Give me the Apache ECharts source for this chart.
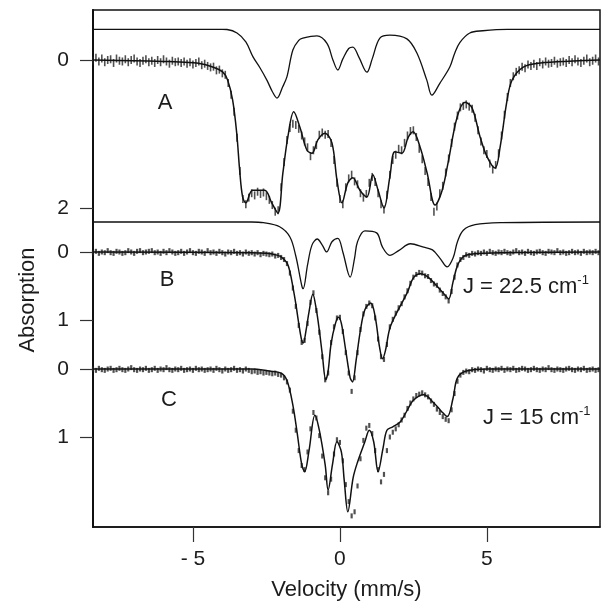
<!DOCTYPE html>
<html>
<head>
<meta charset="utf-8">
<script src="https://cdn.jsdelivr.net/npm/echarts@6/dist/echarts.min.js"></script>
<style>
  html, body { margin: 0; padding: 0; background: #fff; }
  #chart { width: 612px; height: 610px; }
</style>
</head>
<body>
<div id="chart"></div>
<script>
// Mossbauer spectra A, B, C (absorption, %), velocity in mm/s

var velStart = -8.4, velStep = 0.1;   // channel grid of the measured points

var dataA = [
  0.01, -0.03, 0.02, -0.02, 0.03, 0.00, -0.01, 0.04, -0.02, 0.01,
  0.02, -0.01, 0.03, 0.00, -0.02, 0.02, 0.04, 0.01, -0.01, 0.03,
  0.01, 0.04, 0.00, 0.03, -0.01, 0.02, 0.05, 0.01, 0.03, 0.02,
  0.04, 0.02, 0.05, 0.03, 0.06, 0.04, 0.02, 0.07, 0.05, 0.08,
  0.10, 0.09, 0.14, 0.13, 0.18, 0.20, 0.31, 0.47, 0.70, 1.05,
  1.50, 1.88, 1.95, 1.86, 1.80, 1.83, 1.78, 1.81, 1.79, 1.84,
  1.89, 1.96, 2.05, 2.03, 1.72, 1.38, 1.08, 0.92, 0.86, 0.88,
  0.93, 1.02, 1.10, 1.18, 1.30, 1.22, 1.15, 1.01, 0.98, 1.01,
  1.00, 1.12, 1.35, 1.66, 1.88, 1.95, 1.72, 1.60, 1.55, 1.64,
  1.68, 1.80, 1.86, 1.81, 1.66, 1.58, 1.65, 1.80, 1.95, 2.02,
  1.82, 1.55, 1.35, 1.28, 1.20, 1.22, 1.12, 1.02, 0.96, 0.95,
  1.04, 1.20, 1.34, 1.50, 1.65, 1.85, 2.05, 1.98, 1.80, 1.70,
  1.52, 1.33, 1.12, 0.90, 0.75, 0.64, 0.62, 0.60, 0.63, 0.66,
  0.78, 0.95, 1.10, 1.22, 1.27, 1.40, 1.48, 1.42, 1.26, 1.02,
  0.74, 0.50, 0.31, 0.22, 0.16, 0.14, 0.09, 0.11, 0.06, 0.08,
  0.05, 0.08, 0.03, 0.06, 0.02, 0.05, 0.04, 0.01, 0.05, 0.03,
  0.02, 0.04, 0.00, 0.03, -0.01, 0.02, 0.04, 0.01, -0.02, 0.03,
  0.01, -0.02, 0.02
];

var fitA = [
  [-8.4,0],[-7,0.01],[-6,0.02],[-5.45,0.027],[-4.77,0.047],[-4.33,0.095],[-3.99,0.16],
  [-3.82,0.27],[-3.65,0.54],[-3.51,0.99],[-3.41,1.49],[-3.31,1.85],[-3.2,1.93],
  [-2.97,1.76],[-2.56,1.76],[-2.32,1.93],[-2.11,2.07],[-1.94,1.53],[-1.77,1.04],
  [-1.57,0.70],[-1.36,0.91],[-1.12,1.22],[-0.95,1.26],[-0.75,1.08],[-0.51,0.99],
  [-0.27,1.12],[-0.1,1.62],[0.07,1.93],[0.27,1.66],[0.44,1.59],[0.68,1.76],[0.92,1.85],
  [1.12,1.55],[1.30,1.76],[1.50,2.00],[1.70,1.58],[1.87,1.24],[2.11,1.26],[2.32,1.05],
  [2.49,0.97],[2.73,1.18],[2.97,1.53],[3.24,1.96],[3.48,1.76],[3.68,1.39],[3.99,0.77],
  [4.26,0.57],[4.50,0.65],[4.77,1.04],[5.01,1.31],[5.28,1.46],[5.45,1.18],[5.69,0.54],
  [5.86,0.27],[6.24,0.095],[6.82,0.04],[7.94,0.014],[8.85,0]
];

// sub-spectrum drawn above A
var compA = [
  [-8.4,0],[-4.0,0],[-3.84,0.003],[-3.5,0.05],[-3.2,0.17],[-2.96,0.37],[-2.72,0.52],
  [-2.48,0.69],[-2.3,0.84],[-2.14,0.93],[-1.95,0.78],[-1.8,0.64],[-1.6,0.28],
  [-1.4,0.15],[-1.26,0.12],[-0.78,0.09],[-0.44,0.19],[-0.24,0.41],[-0.07,0.55],
  [0.1,0.40],[0.3,0.26],[0.44,0.24],[0.65,0.38],[0.92,0.58],[1.1,0.40],[1.36,0.12],
  [1.7,0.08],[2.28,0.13],[2.62,0.32],[2.96,0.69],[3.13,0.89],[3.4,0.73],[3.74,0.51],
  [3.9,0.33],[4.08,0.18],[4.42,0.05],[4.86,0.02],[5.7,0],[8.85,0]
];

var dataB = [
  0.01, -0.01, 0.02, 0.00, 0.01, -0.02, 0.01, 0.02, -0.01, 0.00,
  0.02, 0.01, -0.02, 0.00, 0.02, -0.01, -0.02, 0.01, 0.00, -0.01,
  -0.02, 0.01, 0.00, 0.02, -0.01, 0.01, -0.02, 0.00, 0.02, 0.01,
  -0.01, 0.02, 0.00, -0.02, 0.01, 0.02, -0.01, 0.00, 0.02, -0.02,
  0.01, 0.00, 0.02, -0.01, 0.01, 0.03, 0.00, 0.01, -0.01, 0.02,
  0.01, 0.03, 0.00, 0.02, 0.01, 0.03, 0.01, 0.04, 0.02, 0.03,
  0.04, 0.03, 0.06, 0.05, 0.08, 0.11, 0.17, 0.31, 0.53, 0.80,
  1.08, 1.33, 1.30, 1.05, 0.74, 0.60, 0.86, 1.18, 1.54, 1.88,
  1.78, 1.33, 1.10, 0.97, 0.96, 1.17, 1.48, 1.78, 2.05, 1.85,
  1.48, 1.14, 0.91, 0.80, 0.75, 0.79, 0.97, 1.28, 1.54, 1.58,
  1.36, 1.10, 0.99, 0.90, 0.82, 0.76, 0.66, 0.57, 0.46, 0.37,
  0.33, 0.30, 0.31, 0.35, 0.36, 0.42, 0.47, 0.49, 0.56, 0.61,
  0.66, 0.72, 0.58, 0.37, 0.19, 0.11, 0.08, 0.04, 0.05, 0.02,
  0.03, 0.01, 0.02, 0.00, 0.02, -0.01, 0.01, 0.02, 0.00, 0.01,
  -0.01, 0.01, 0.02, 0.00, -0.02, 0.01, 0.00, 0.02, -0.01, 0.01,
  0.02, 0.00, -0.01, 0.01, 0.02, -0.01, 0.00, 0.01, -0.02, 0.01,
  0.00, 0.02, 0.01, -0.01, 0.01, 0.00, 0.02, -0.01, 0.01, 0.00,
  0.01, -0.01, 0.01
];

var fitB = [
  [-8.4,0],[-3.0,0.01],[-2.5,0.02],[-2.2,0.04],[-2.0,0.07],[-1.8,0.16],[-1.7,0.29],
  [-1.6,0.51],[-1.5,0.76],[-1.4,1.05],[-1.3,1.30],[-1.25,1.34],[-1.15,1.15],[-1.05,0.88],
  [-0.92,0.62],[-0.8,0.85],[-0.7,1.15],[-0.6,1.50],[-0.48,1.88],[-0.4,1.75],[-0.3,1.35],
  [-0.15,1.05],[-0.05,0.96],[0.05,1.05],[0.2,1.45],[0.35,1.85],[0.43,1.91],[0.55,1.60],
  [0.7,1.15],[0.85,0.85],[1.05,0.75],[1.2,0.95],[1.35,1.40],[1.45,1.57],[1.55,1.45],
  [1.7,1.12],[1.95,0.88],[2.3,0.59],[2.5,0.38],[2.75,0.32],[3.0,0.37],[3.3,0.50],
  [3.55,0.62],[3.7,0.69],[3.85,0.44],[4.0,0.20],[4.2,0.07],[4.5,0.03],[5.5,0.01],[8.85,0]
];

// sub-spectrum drawn above B
var compB = [
  [-8.4,0],[-3.0,0],[-2.6,0.01],[-2.05,0.07],[-1.7,0.22],[-1.5,0.50],[-1.3,0.93],
  [-1.25,0.98],[-1.1,0.63],[-0.95,0.34],[-0.77,0.25],[-0.6,0.34],[-0.45,0.44],
  [-0.27,0.29],[-0.07,0.24],[0.1,0.44],[0.35,0.81],[0.5,0.53],[0.6,0.29],[0.85,0.13],
  [1.25,0.16],[1.45,0.37],[1.7,0.49],[2.0,0.42],[2.4,0.32],[2.85,0.37],[3.15,0.41],
  [3.4,0.53],[3.65,0.66],[3.85,0.53],[4.0,0.29],[4.2,0.12],[4.6,0.04],[5.5,0.01],[8.85,0]
];

var dataC = [
  0.00, 0.02, -0.01, 0.01, 0.02, 0.00, -0.01, 0.02, 0.01, -0.01,
  0.01, 0.02, 0.00, -0.02, 0.01, 0.02, 0.00, 0.01, -0.01, 0.02,
  0.01, -0.01, 0.02, 0.00, 0.01, -0.02, 0.01, 0.02, 0.00, 0.01,
  -0.01, 0.02, 0.01, 0.00, 0.02, -0.01, 0.01, 0.00, 0.02, 0.01,
  0.00, 0.02, -0.01, 0.01, 0.03, 0.00, 0.02, 0.01, -0.01, 0.02,
  0.01, 0.03, 0.00, 0.02, 0.04, 0.03, 0.05, 0.04, 0.06, 0.05,
  0.06, 0.07, 0.06, 0.08, 0.09, 0.13, 0.19, 0.31, 0.62, 0.90,
  1.20, 1.42, 1.48, 1.22, 0.88, 0.64, 0.72, 0.98, 1.28, 1.60,
  1.82, 1.62, 1.25, 1.04, 1.08, 1.35, 1.70, 1.95, 2.16, 2.10,
  1.72, 1.32, 1.05, 0.87, 0.83, 0.95, 1.20, 1.48, 1.66, 1.55,
  1.20, 1.00, 0.93, 0.88, 0.82, 0.75, 0.68, 0.58, 0.50, 0.44,
  0.39, 0.37, 0.35, 0.38, 0.41, 0.47, 0.52, 0.59, 0.64, 0.70,
  0.74, 0.76, 0.60, 0.36, 0.18, 0.09, 0.05, 0.03, 0.04, 0.01,
  0.02, 0.00, 0.01, 0.03, -0.01, 0.01, 0.02, 0.00, 0.01, -0.01,
  0.02, 0.00, 0.01, -0.01, 0.02, 0.01, -0.01, 0.00, 0.02, 0.01,
  -0.01, 0.01, 0.02, 0.00, 0.01, -0.02, 0.01, 0.02, 0.00, 0.01,
  0.02, 0.00, -0.01, 0.01, 0.02, 0.00, 0.01, -0.01, 0.02, 0.01,
  0.00, 0.02, 0.01
];

var fitC = [
  [-8.4,0],[-3.0,0],[-2.4,0.03],[-2.0,0.06],[-1.8,0.17],[-1.6,0.53],[-1.45,0.95],
  [-1.3,1.40],[-1.2,1.51],[-1.05,1.20],[-0.85,0.68],[-0.7,0.90],[-0.5,1.41],[-0.4,1.78],
  [-0.25,1.40],[-0.1,1.07],[0.05,1.22],[0.15,1.65],[0.27,2.10],[0.45,1.60],[0.6,1.37],
  [0.85,1.07],[1.0,0.90],[1.15,1.07],[1.3,1.51],[1.47,1.16],[1.6,0.90],[1.8,0.85],
  [2.05,0.78],[2.3,0.60],[2.5,0.46],[2.85,0.38],[3.2,0.50],[3.45,0.62],[3.65,0.70],
  [3.85,0.43],[4.0,0.13],[4.3,0.03],[5.0,0],[8.85,0]
];

var xTicks = [-5, 0, 5];
var yTicksA = [0, 2], yTicksB = [0, 1], yTicksC = [0, 1];

// baseline shift of the sub-spectra inside their panel (panel units)
var offA = -0.415, offB = -0.441;

function points(vals) {
  var out = [];
  for (var i = 0; i < vals.length; i++)
    out.push([+(velStart + i * velStep).toFixed(2), vals[i]]);
  return out;
}
function shifted(pairs, off) {
  return pairs.map(function (p) { return [p[0], p[1] + off]; });
}

var txt = '#1c1c1c', ff = 'Liberation Sans, Arial, sans-serif';

function yAxisFor(ticks, mn, mx) {
  return {
    type: 'value', position: 'left', inverse: true, min: mn, max: mx,
    axisLine: { show: true, onZero: false, lineStyle: { color: '#111', width: 1.5 } },
    axisTick: { show: true, customValues: ticks, length: 13, lineStyle: { color: '#333', width: 1.2 } },
    axisLabel: { customValues: ticks, margin: 24, fontSize: 21, color: txt, fontFamily: ff },
    splitLine: { show: false }
  };
}

function fitLine(pairs, yi, w) {
  return {
    type: 'line', yAxisIndex: yi, data: pairs, smooth: 0.35, symbol: 'none',
    lineStyle: { color: '#111', width: w }, z: 3
  };
}
function marks(vals, yi, w, h) {
  return {
    type: 'scatter', yAxisIndex: yi, data: points(vals), symbol: 'rect',
    symbolSize: [w, h], itemStyle: { color: '#262626' }, z: 2
  };
}

var myChart = echarts.init(document.getElementById('chart'));

var option = {
  animation: false,
  backgroundColor: '#fff',
  grid: { left: 93, right: 12, top: 10, bottom: 83, show: true, borderColor: '#111', borderWidth: 1.5 },
  xAxis: {
    type: 'value', min: -8.4, max: 8.85,
    axisLine: { show: true, onZero: false, lineStyle: { color: '#111', width: 1.5 } },
    axisTick: { show: true, customValues: xTicks, length: 15, lineStyle: { color: '#333', width: 1.2 } },
    axisLabel: {
      customValues: xTicks, margin: 22, fontSize: 21, color: txt, fontFamily: ff,
      formatter: function (v) { return v < 0 ? '- ' + (-v) : '' + v; }
    },
    splitLine: { show: false },
    name: 'Velocity (mm/s)', nameLocation: 'middle', nameGap: 52,
    nameTextStyle: { fontSize: 22, color: txt, fontFamily: ff }
  },
  // one value axis per panel, all drawn on the left edge
  yAxis: [
    yAxisFor(yTicksA, -0.6757, 6.3108),
    yAxisFor(yTicksB, -3.5588, 4.0441),
    yAxisFor(yTicksC, -5.2794, 2.3235)
  ],
  series: [
    fitLine(shifted(compA, offA), 0, 1.3),
    marks(dataA, 0, 1.6, 8),
    fitLine(fitA, 0, 1.5),
    fitLine(shifted(compB, offB), 1, 1.3),
    marks(dataB, 1, 2.2, 5),
    fitLine(fitB, 1, 1.5),
    marks(dataC, 2, 2.2, 5),
    fitLine(fitC, 2, 1.5)
  ],
  graphic: [
    { type: 'text', x: 28, y: 300, rotation: Math.PI / 2,
      style: { text: 'Absorption', font: '22px ' + ff, fill: txt, textAlign: 'center', textVerticalAlign: 'middle' } },
    { type: 'text', x: 165, y: 103,
      style: { text: 'A', font: '22px ' + ff, fill: txt, textAlign: 'center', textVerticalAlign: 'middle' } },
    { type: 'text', x: 167, y: 280,
      style: { text: 'B', font: '22px ' + ff, fill: txt, textAlign: 'center', textVerticalAlign: 'middle' } },
    { type: 'text', x: 169, y: 400,
      style: { text: 'C', font: '22px ' + ff, fill: txt, textAlign: 'center', textVerticalAlign: 'middle' } },
    { type: 'text', x: 463, y: 287,
      style: { text: '{m|J = 22.5 cm}{s|-1}', textVerticalAlign: 'middle', fill: txt,
        rich: { m: { font: '22px ' + ff, fill: txt, lineHeight: 26 },
                s: { font: '13px ' + ff, fill: txt, verticalAlign: 'top', lineHeight: 26 } } } },
    { type: 'text', x: 483, y: 418,
      style: { text: '{m|J = 15 cm}{s|-1}', textVerticalAlign: 'middle', fill: txt,
        rich: { m: { font: '22px ' + ff, fill: txt, lineHeight: 26 },
                s: { font: '13px ' + ff, fill: txt, verticalAlign: 'top', lineHeight: 26 } } } }
  ]
};

myChart.setOption(option);
</script>
</body>
</html>
